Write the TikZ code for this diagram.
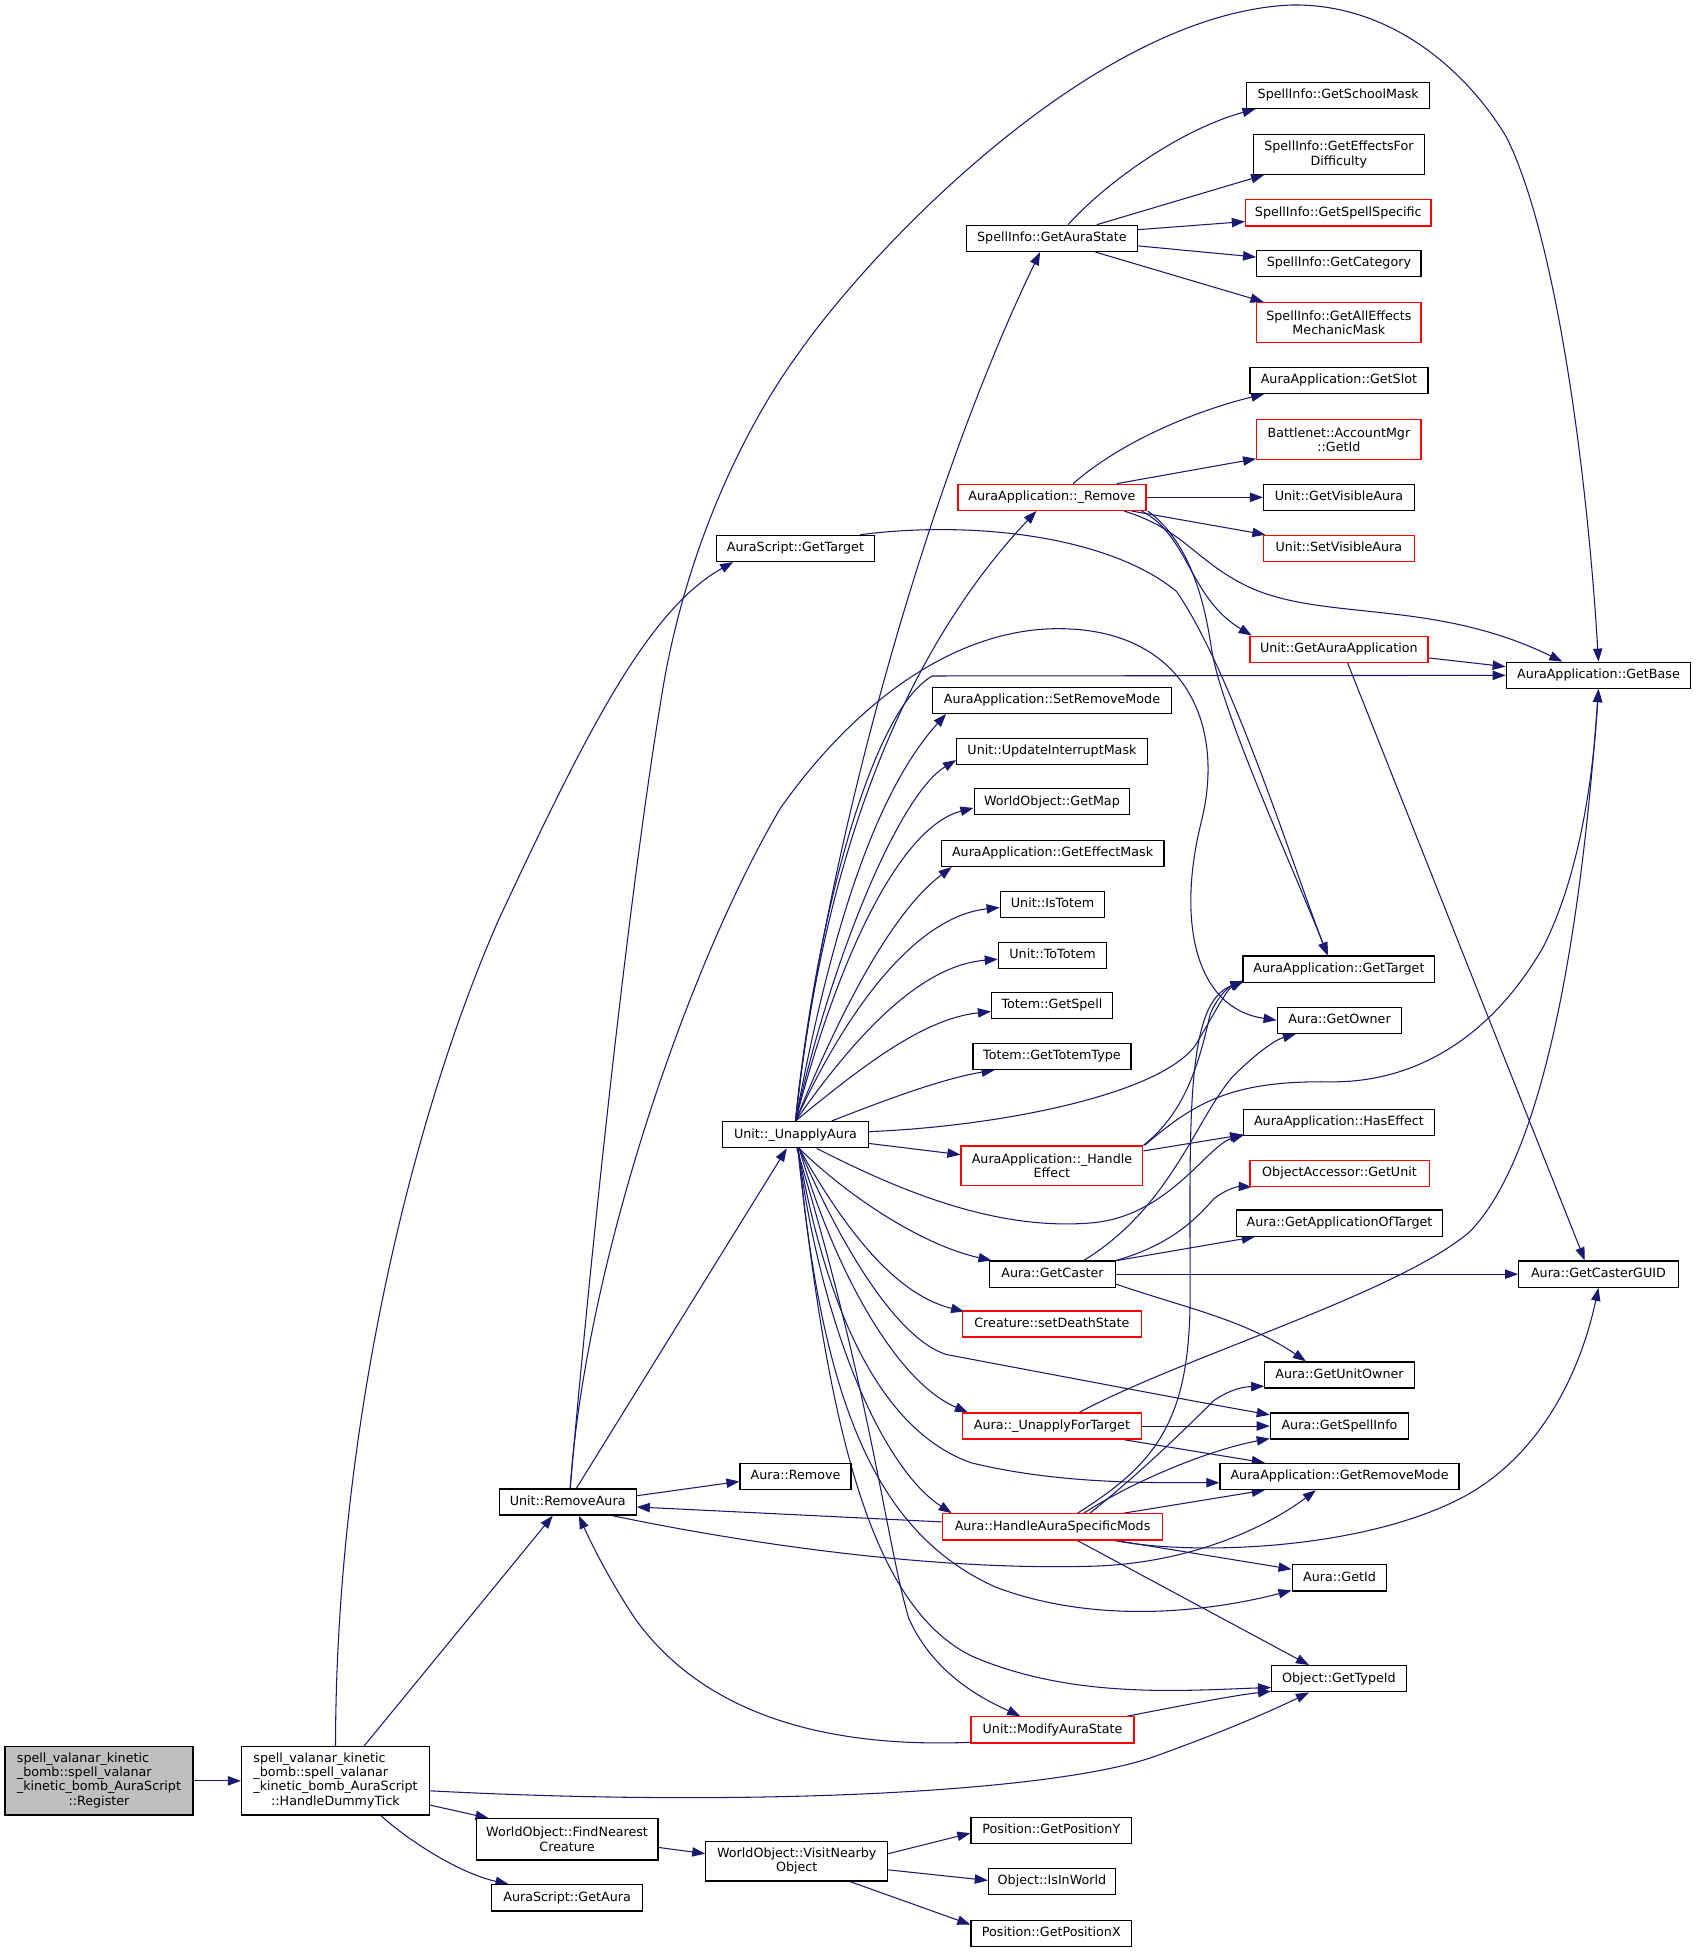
\documentclass[tikz,border=0pt]{standalone}
\usepackage{fontspec}
\setmainfont{DejaVu Sans}
\usetikzlibrary{arrows.meta,calc}
\definecolor{edgeblue}{HTML}{191970}
\definecolor{nodegray}{HTML}{BFBFBF}
\newcommand\ndfont{\fontsize{10.2}{11.5}\selectfont}
\pgfdeclarelayer{paper}
\pgfdeclarelayer{bg}
\pgfsetlayers{paper,bg,main}
\tikzset{
  box/.style={draw=black, line width=1pt, fill=white, inner sep=2pt, font=\ndfont, text=black, minimum height=21pt},
  one/.style={box, text height=7.6pt, text depth=2.3pt},
  two/.style={box, align=center, minimum height=32pt},
  four/.style={box, minimum height=55pt},
  redb/.style={draw=red},
  e/.style={draw=edgeblue, line width=0.85pt, -{Triangle[length=10.5pt,width=7.5pt]}},
}
\begin{document}
\begin{tikzpicture}[x=1pt,y=-1pt]
\begin{pgfonlayer}{paper}
\fill[white] (0,0) rectangle (1363,1568);
\end{pgfonlayer}
\useasboundingbox (0,0) rectangle (1363,1568);

% ---------- nodes ----------
\node[four, fill=nodegray, minimum width=151pt] (reg) at (79.5,1430.5) {\begin{tabular}{@{}l@{}}spell\_valanar\_kinetic\\ \_bomb::spell\_valanar\\ \_kinetic\_bomb\_AuraScript\\ \multicolumn{1}{@{}c@{}}{::Register}\end{tabular}};
\node[four, minimum width=151pt] (hdt) at (269.5,1430.5) {\begin{tabular}{@{}l@{}}spell\_valanar\_kinetic\\ \_bomb::spell\_valanar\\ \_kinetic\_bomb\_AuraScript\\ \multicolumn{1}{@{}c@{}}{::HandleDummyTick}\end{tabular}};
\node[one, minimum width=110pt] (removeaura) at (456,1206.5) {Unit::RemoveAura};
\node[two, minimum width=146pt, minimum height=33pt] (findnearest) at (455.5,1477.5) {WorldObject::FindNearest\\Creature};
\node[one, minimum width=121pt] (getaura) at (455.5,1524.5) {AuraScript::GetAura};
\node[two, minimum width=146pt] (visit) at (640,1495) {WorldObject::VisitNearby\\Object};
\node[one, minimum width=129pt] (posy) at (844.5,1470.5) {Position::GetPositionY};
\node[one, minimum width=102pt] (isinworld) at (845,1511.5) {Object::IsInWorld};
\node[one, minimum width=129pt] (posx) at (844.5,1553) {Position::GetPositionX};
\node[one, minimum width=127pt] (asgettarget) at (639,440.5) {AuraScript::GetTarget};
\node[one, minimum width=89pt] (auraremove) at (639,1186) {Aura::Remove};
\node[one, minimum width=117pt] (unapply) at (639,911.5) {Unit::\_UnapplyAura};
\node[one, minimum width=137pt] (getaurastate) at (845,191.5) {SpellInfo::GetAuraState};
\node[one, minimum width=147pt] (schoolmask) at (1075,76.5) {SpellInfo::GetSchoolMask};
\node[two, minimum width=137pt] (effectsfor) at (1075.5,124) {SpellInfo::GetEffectsFor\\Difficulty};
\node[one, redb, minimum width=149pt] (spellspecific) at (1075,171) {SpellInfo::GetSpellSpecific};
\node[one, minimum width=132pt] (category) at (1075.5,211.5) {SpellInfo::GetCategory};
\node[two, redb, minimum width=132pt] (alleffects) at (1075.5,259) {SpellInfo::GetAllEffects\\MechanicMask};
\node[one, minimum width=143pt] (getslot) at (1075.5,305.5) {AuraApplication::GetSlot};
\node[two, redb, minimum width=132pt] (bnetgetid) at (1075.5,353) {Battlenet::AccountMgr\\::GetId};
\node[one, minimum width=121pt] (getvisible) at (1075.5,399.5) {Unit::GetVisibleAura};
\node[one, redb, minimum width=121pt] (setvisible) at (1075.5,440.5) {Unit::SetVisibleAura};
\node[one, redb, minimum width=151pt] (aaremove) at (845,399.5) {AuraApplication::\_Remove};
\node[one, redb, minimum width=143pt] (getauraapp) at (1075.5,521.5) {Unit::GetAuraApplication};
\node[one, minimum width=148pt] (getbase) at (1284,542.5) {AuraApplication::GetBase};
\node[one, minimum width=192pt] (setremovemode) at (845,562.5) {AuraApplication::SetRemoveMode};
\node[one, minimum width=153pt] (updint) at (845,603.5) {Unit::UpdateInterruptMask};
\node[one, minimum width=125pt] (getmap) at (845,644) {WorldObject::GetMap};
\node[one, minimum width=179pt] (geteffectmask) at (845.5,685.5) {AuraApplication::GetEffectMask};
\node[one, minimum width=84pt] (istotem) at (845.5,726.5) {Unit::IsTotem};
\node[one, minimum width=87pt] (tototem) at (845.5,767.5) {Unit::ToTotem};
\node[one, minimum width=97pt] (getspell) at (845,807.5) {Totem::GetSpell};
\node[one, minimum width=127pt] (gettotemtype) at (845,848.5) {Totem::GetTotemType};
\node[one, minimum width=154pt] (aagettarget) at (1075.5,778.5) {AuraApplication::GetTarget};
\node[one, minimum width=100pt] (getowner) at (1076,819.5) {Aura::GetOwner};
\node[one, minimum width=153pt] (haseffect) at (1075.5,901.5) {AuraApplication::HasEffect};
\node[two, redb, minimum width=146pt] (handleeffect) at (845,936.5) {AuraApplication::\_Handle\\Effect};
\node[one, redb, minimum width=144pt] (getunit) at (1076,942.5) {ObjectAccessor::GetUnit};
\node[one, minimum width=166pt] (getappoftarget) at (1076,982.5) {Aura::GetApplicationOfTarget};
\node[one, minimum width=101pt] (getcaster) at (845.5,1023.5) {Aura::GetCaster};
\node[one, minimum width=128pt] (getcasterguid) at (1284,1023.5) {Aura::GetCasterGUID};
\node[one, redb, minimum width=144pt] (setdeathstate) at (845,1063.5) {Creature::setDeathState};
\node[one, minimum width=120pt] (getunitowner) at (1076,1104.5) {Aura::GetUnitOwner};
\node[one, redb, minimum width=144pt] (unapplyfortarget) at (845,1145.5) {Aura::\_UnapplyForTarget};
\node[one, minimum width=111pt] (getspellinfo) at (1076,1145.5) {Aura::GetSpellInfo};
\node[one, minimum width=192pt] (getremovemode) at (1076,1186) {AuraApplication::GetRemoveMode};
\node[one, redb, minimum width=177pt] (hasm) at (845.5,1226.5) {Aura::HandleAuraSpecificMods};
\node[one, minimum width=76pt] (auragetid) at (1076,1267.5) {Aura::GetId};
\node[one, minimum width=108pt] (gettypeid) at (1075.5,1348.5) {Object::GetTypeId};
\node[one, redb, minimum width=131pt] (modifyaurastate) at (845.5,1389.5) {Unit::ModifyAuraState};

% ---------- edges ----------
\begin{pgfonlayer}{bg}
\draw[e] (reg) -- (hdt);
\draw[e] (hdt.north) .. controls (270,1150) and (330,900) .. (400,740) .. controls (470,590) and (520,490) .. ($(asgettarget.south)+(-50,0)$);
\draw[e] ($(hdt.north)+(23,0)$) -- ($(removeaura.south)+(-12,0)$);
\draw[e] ($(hdt.east)+(0,19.5)$) -- ($(findnearest.north)+(-63,0)$);
\draw[e] ($(hdt.south)+(36.5,0)$) .. controls (330,1480) and (370,1505) .. ($(getaura.north)+(-47,0)$);
\draw[e] ($(hdt.east)+(0,8)$) .. controls (600,1452) and (850,1440) .. (930,1410) .. controls (980,1392) and (1020,1375) .. ($(gettypeid.south)+(-24,0)$);
\draw[e] ($(findnearest.east)+(0,6.5)$) -- ($(visit.west)+(0,-6)$);
\draw[e] ($(visit.east)+(0,-6)$) -- ($(posy.west)+(0,2)$);
\draw[e] ($(visit.east)+(0,7)$) -- ($(isinworld.west)+(0,-1)$);
\draw[e] ($(visit.south)+(43,0)$) -- ($(posx.west)+(0,-7)$);

% Unit::RemoveAura
\draw[e] ($(removeaura.east)+(0,-5)$) -- ($(auraremove.west)+(0,4)$);
\draw[e] ($(removeaura.north)+(7,0)$) -- ($(unapply.south)+(-7,0)$);
\draw[e] ($(removeaura.south)+(36,0)$) .. controls (600,1240) and (750,1262) .. (880,1258) .. controls (960,1255) and (1020,1225) .. ($(getremovemode.south)+(-19,0)$);
\draw[e] ($(removeaura.north)+(2,0)$) .. controls (470,1020) and (550,780) .. (627,649) .. controls (690,560) and (770,505) .. (850,505) .. controls (950,505) and (985,580) .. (965,660) .. controls (945,740) and (960,810) .. (getowner.west);
\draw[e] ($(removeaura.north)+(2,0)$) .. controls (475,1000) and (505,720) .. (531,562) .. controls (550,440) and (600,340) .. (642,283) .. controls (700,200) and (880,10) .. (1038,4) .. controls (1120,3) and (1180,60) .. (1210,110) .. controls (1250,190) and (1275,380) .. (getbase.north);

% Unit::_UnapplyAura
\draw[e] (unapply.north) .. controls (655,740) and (700,570) .. (749,543) -- (getbase.west);
\draw[e] (unapply.north) .. controls (660,700) and (740,400) .. ($(getaurastate.south)+(-9.5,0)$);
\draw[e] (unapply.north) .. controls (660,700) and (720,530) .. ($(aaremove.south)+(-12.5,0)$);
\draw[e] (unapply.north) .. controls (665,760) and (700,640) .. ($(setremovemode.south)+(-85,0)$);
\draw[e] (unapply.north) .. controls (665,780) and (720,640) .. ($(updint.west)+(0,7)$);
\draw[e] (unapply.north) .. controls (670,780) and (720,665) .. ($(getmap.west)+(0,5)$);
\draw[e] (unapply.north) .. controls (680,800) and (720,730) .. ($(geteffectmask.south west)+(9,0)$);
\draw[e] (unapply.north) .. controls (690,790) and (745,735) .. ($(istotem.west)+(0,2.5)$);
\draw[e] (unapply.north) .. controls (695,820) and (745,775) .. ($(tototem.west)+(0,3)$);
\draw[e] (unapply.north) .. controls (700,850) and (745,818) .. ($(getspell.west)+(0,5)$);
\draw[e] ($(unapply.north)+(29,0)$) .. controls (720,880) and (760,866) .. ($(gettotemtype.south west)+(18,0)$);
\draw[e] ($(unapply.east)+(0,-2.5)$) .. controls (800,905) and (930,880) .. (960,840) .. controls (975,815) and (985,795) .. ($(aagettarget.south west)+(1,-2)$);
\draw[e] ($(unapply.east)+(0,7)$) -- ($(handleeffect.west)+(0,-9)$);
\draw[e] ($(unapply.south)+(17,0)$) .. controls (720,955) and (800,990) .. (880,982) .. controls (940,975) and (970,920) .. ($(haseffect.south west)+(1,-1)$);
\draw[e] ($(unapply.south)+(3,0)$) .. controls (680,960) and (740,1000) .. ($(getcaster.north west)+(2,0)$);
\draw[e] ($(unapply.south)+(3,0)$) .. controls (680,990) and (720,1040) .. ($(setdeathstate.north west)+(2,1)$);
\draw[e] ($(unapply.south)+(3,0)$) .. controls (675,1000) and (720,1075) .. (760,1088) .. controls (850,1105) and (950,1124) .. ($(getspellinfo.north west)+(0,2)$);
\draw[e] ($(unapply.south)+(3,0)$) .. controls (670,1020) and (720,1110) .. ($(unapplyfortarget.north west)+(5,0)$);
\draw[e] ($(unapply.south)+(2,0)$) .. controls (665,1060) and (710,1150) .. (780,1175) .. controls (850,1192) and (920,1191) .. ($(getremovemode.west)+(0,5)$);
\draw[e] ($(unapply.south)+(2,0)$) .. controls (660,1070) and (710,1180) .. ($(hasm.north west)+(8,0)$);
\draw[e] ($(unapply.south)+(2,0)$) .. controls (660,1120) and (700,1230) .. (800,1275) .. controls (880,1305) and (970,1295) .. ($(auragetid.south west)+(0,-1)$);
\draw[e] ($(unapply.south)+(2,0)$) .. controls (665,1150) and (700,1290) .. (780,1330) .. controls (860,1365) and (950,1358) .. ($(gettypeid.west)+(0,7)$);
\draw[e] ($(unapply.south)+(1,0)$) .. controls (700,1120) and (712,1240) .. (730,1300) .. controls (750,1345) and (790,1365) .. ($(modifyaurastate.north)+(-26,0)$);

% Unit::ModifyAuraState
\draw[e] ($(modifyaurastate.south west)+(1,-1)$) .. controls (650,1405) and (560,1370) .. (510,1300) .. controls (490,1270) and (475,1240) .. ($(removeaura.south)+(9,0)$);
\draw[e] ($(modifyaurastate.north east)+(-6,0)$) .. controls (950,1370) and (990,1362) .. ($(gettypeid.south west)+(0,-1)$);

% Aura::HandleAuraSpecificMods
\draw[e] ($(hasm.west)+(0,-4)$) -- ($(removeaura.east)+(0,4)$);
\draw[e] ($(hasm.south)+(20,0)$) -- ($(gettypeid.north)+(-24,0)$);
\draw[e] ($(hasm.south)+(51,0)$) -- ($(auragetid.west)+(0,-7)$);
\draw[e] ($(hasm.south)+(50,0)$) .. controls (960,1250) and (1100,1245) .. (1180,1200) .. controls (1240,1165) and (1270,1100) .. (getcasterguid.south);
\draw[e] ($(hasm.north)+(57,0)$) -- ($(getremovemode.south)+(-60,0)$);
\draw[e] ($(hasm.north)+(25,0)$) .. controls (910,1190) and (970,1165) .. ($(getspellinfo.south west)+(0,-1)$);
\draw[e] ($(hasm.north)+(30,0)$) .. controls (920,1180) and (960,1140) .. (975,1125) .. controls (990,1115) and (1000,1114) .. ($(getunitowner.south west)+(0,-2)$);
\draw[e] ($(hasm.north)+(20,0)$) .. controls (930,1175) and (956,1140) .. (956,1040) .. controls (956,900) and (952,805) .. ($(aagettarget.south west)+(1,-1)$);

% Aura::_UnapplyForTarget
\draw[e] ($(unapplyfortarget.north)+(22,0)$) .. controls (950,1090) and (1120,1040) .. (1180,990) .. controls (1240,930) and (1270,750) .. (getbase.south);
\draw[e] (unapplyfortarget.east) -- (getspellinfo.west);
\draw[e] ($(unapplyfortarget.south)+(58,0)$) -- ($(getremovemode.north)+(-60,0)$);

% Aura::GetCaster
\draw[e] ($(getcaster.north)+(25,0)$) .. controls (940,970) and (960,900) .. (990,865) .. controls (1010,845) and (1025,835) .. ($(getowner.south)+(-35,0)$);
\draw[e] (getcaster.north east) .. controls (940,1000) and (960,980) .. (975,963) .. controls (985,955) and (995,953) .. ($(getunit.south west)+(2,0)$);
\draw[e] ($(getcaster.north east)+(1,0)$) -- ($(getappoftarget.south)+(-68,0)$);
\draw[e] (getcaster.east) -- (getcasterguid.west);
\draw[e] ($(getcaster.east)+(0,8)$) .. controls (950,1050) and (1000,1060) .. ($(getunitowner.north)+(-27,0)$);

% Unit::GetAuraApplication
\draw[e] ($(getauraapp.east)+(0,7)$) -- ($(getbase.west)+(0,-7)$);
\draw[e] ($(getauraapp.south)+(7,0)$) -- ($(getcasterguid.north)+(-11,0)$);

% AuraApplication::_Remove
\draw[e] ($(aaremove.north)+(17,0)$) .. controls (900,355) and (960,330) .. ($(getslot.south west)+(12,0)$);
\draw[e] ($(aaremove.north)+(52,0)$) -- ($(bnetgetid.south west)+(0,-1)$);
\draw[e] (aaremove.east) -- (getvisible.west);
\draw[e] ($(aaremove.south)+(64,0)$) -- ($(setvisible.north west)+(2,0)$);
\draw[e] ($(aaremove.south)+(58,0)$) .. controls (950,425) and (960,450) .. (1000,470) .. controls (1060,500) and (1150,480) .. ($(getbase.north)+(-29,0)$);
\draw[e] ($(aaremove.south)+(72,0)$) .. controls (955,430) and (955,480) .. ($(getauraapp.north west)+(2,0)$);
\draw[e] ($(aaremove.south)+(77,0)$) .. controls (955,435) and (967,480) .. (973,520) .. controls (980,570) and (1040,700) .. ($(aagettarget.north)+(-9,0)$);

% AuraScript::GetTarget
\draw[e] ($(asgettarget.north east)+(-12,0)$) .. controls (780,418) and (890,430) .. (945,475) .. controls (990,540) and (1040,700) .. ($(aagettarget.north)+(-9,0)$);

% AuraApplication::_HandleEffect
\draw[e] (handleeffect.north east) .. controls (950,895) and (962,860) .. (972,815) .. controls (978,800) and (988,792) .. ($(aagettarget.south west)+(1,-1)$);
\draw[e] ($(handleeffect.north east)+(1,0)$) .. controls (960,885) and (990,868) .. (1068,869) .. controls (1140,870) and (1200,830) .. (1240,760) .. controls (1270,700) and (1280,620) .. (getbase.south);
\draw[e] ($(handleeffect.east)+(0,-12)$) -- ($(haseffect.south west)+(0,-1)$);

% SpellInfo::GetAuraState
\draw[e] ($(getaurastate.north)+(13,0)$) .. controls (885,150) and (945,105) .. ($(schoolmask.south west)+(7.5,0)$);
\draw[e] ($(getaurastate.north)+(36,0)$) -- ($(effectsfor.south west)+(9,0)$);
\draw[e] ($(getaurastate.east)+(0,-7)$) -- ($(spellspecific.west)+(0,7)$);
\draw[e] ($(getaurastate.east)+(0,6)$) -- ($(category.west)+(0,-5)$);
\draw[e] ($(getaurastate.south)+(35,0)$) -- ($(alleffects.north west)+(6,0)$);
\end{pgfonlayer}
\end{tikzpicture}
\end{document}
